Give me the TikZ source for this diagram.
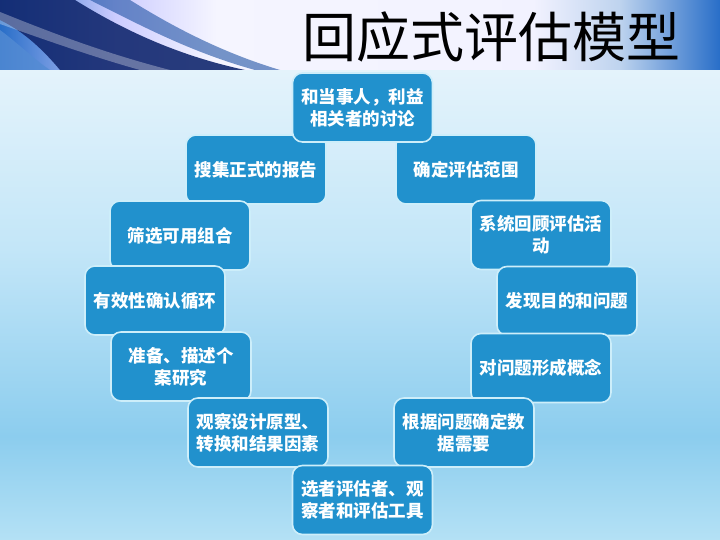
\documentclass[tikz,border=0pt]{standalone}
\usepackage{fontspec}
\newfontfamily\cjk{Noto Sans CJK SC}
\usetikzlibrary{positioning}
\definecolor{boxblue}{RGB}{33,145,205}
\definecolor{boxedge}{RGB}{205,238,250}
\definecolor{bgA}{RGB}{180,225,245}
\definecolor{bgB}{RGB}{140,205,238}
\definecolor{bgC}{RGB}{195,230,248}
\definecolor{bgD}{RGB}{228,243,251}
\definecolor{navy}{RGB}{18,40,110}
\definecolor{bannerblue}{RGB}{40,110,200}
\pgfdeclarehorizontalshading{bannershade}{100bp}{color(0bp)=(bannerblue); color(25bp)=(bannerblue); color(33bp)=(white!80!blue); color(40bp)=(white!96!blue); color(62bp)=(white!95!blue); color(68bp)=(white!70!bannerblue); color(75bp)=(bannerblue); color(100bp)=(bannerblue)}
\pgfdeclareverticalshading{bgshade}{100bp}{color(0bp)=(bgA); color(25bp)=(bgA); color(36bp)=(bgB); color(56bp)=(bgC); color(75bp)=(bgD); color(100bp)=(bgD)}
\tikzset{
  stage/.style={draw=boxedge, line width=1.6pt, fill=boxblue, rounded corners=10pt,
    minimum width=140pt, minimum height=69pt, text=white, align=center,
    font=\cjk\bfseries\fontsize{17.5}{22}\selectfont, inner sep=2pt},
  titletext/.style={font=\cjk\fontsize{54}{60}\selectfont, text=black}
}
\begin{document}
\begin{tikzpicture}[x=1pt,y=-1pt]
\useasboundingbox (0,0) rectangle (720,540);
% background
\shade[shading=bgshade] (0,70) rectangle (720,540);
% banner
\shade[shading=bannershade] (0,0) rectangle (720,70);
\fill[navy, opacity=0.9] (0,0) -- (75,0) .. controls (120,28) and (175,55) .. (245,70) -- (60,70) .. controls (45,52) and (25,32) .. (0,20) -- cycle;
\fill[bannerblue!80!white, opacity=0.8] (0,30) .. controls (20,45) and (35,60) .. (50,70) -- (0,70) -- cycle;
\fill[white, opacity=0.3] (0,12) .. controls (45,30) and (100,52) .. (170,70) -- (140,70) .. controls (90,56) and (40,38) .. (0,24) -- cycle;
\fill[bannerblue!60!navy, opacity=0.6] (90,0) -- (130,0) .. controls (170,25) and (220,52) .. (280,70) -- (255,70) .. controls (190,52) and (140,25) .. (90,0) -- cycle;
\node[titletext] (title) at (491,37) {回应式评估模型};
% stages
\node[stage] (l1) at (256,169.5) {搜集正式的报告};
\node[stage] (r1) at (466,169.5) {确定评估范围};
\node[stage] (top) at (362.5,107.5) {和当事人，利益\\相关者的讨论};
\node[stage] (l2) at (180,235.5) {筛选可用组合};
\node[stage] (r2) at (541,235) {系统回顾评估活\\动};
\node[stage] (l3) at (155,300.5) {有效性确认循环};
\node[stage] (r3) at (567,301) {发现目的和问题};
\node[stage] (l4) at (181,366.5) {准备、描述个\\案研究};
\node[stage] (r4) at (541,368) {对问题形成概念};
\node[stage] (l5) at (258,432.5) {观察设计原型、\\转换和结果因素};
\node[stage] (r5) at (464,432.5) {根据问题确定数\\据需要};
\node[stage] (bot) at (362.5,500) {选者评估者、观\\察者和评估工具};
\end{tikzpicture}
\end{document}
